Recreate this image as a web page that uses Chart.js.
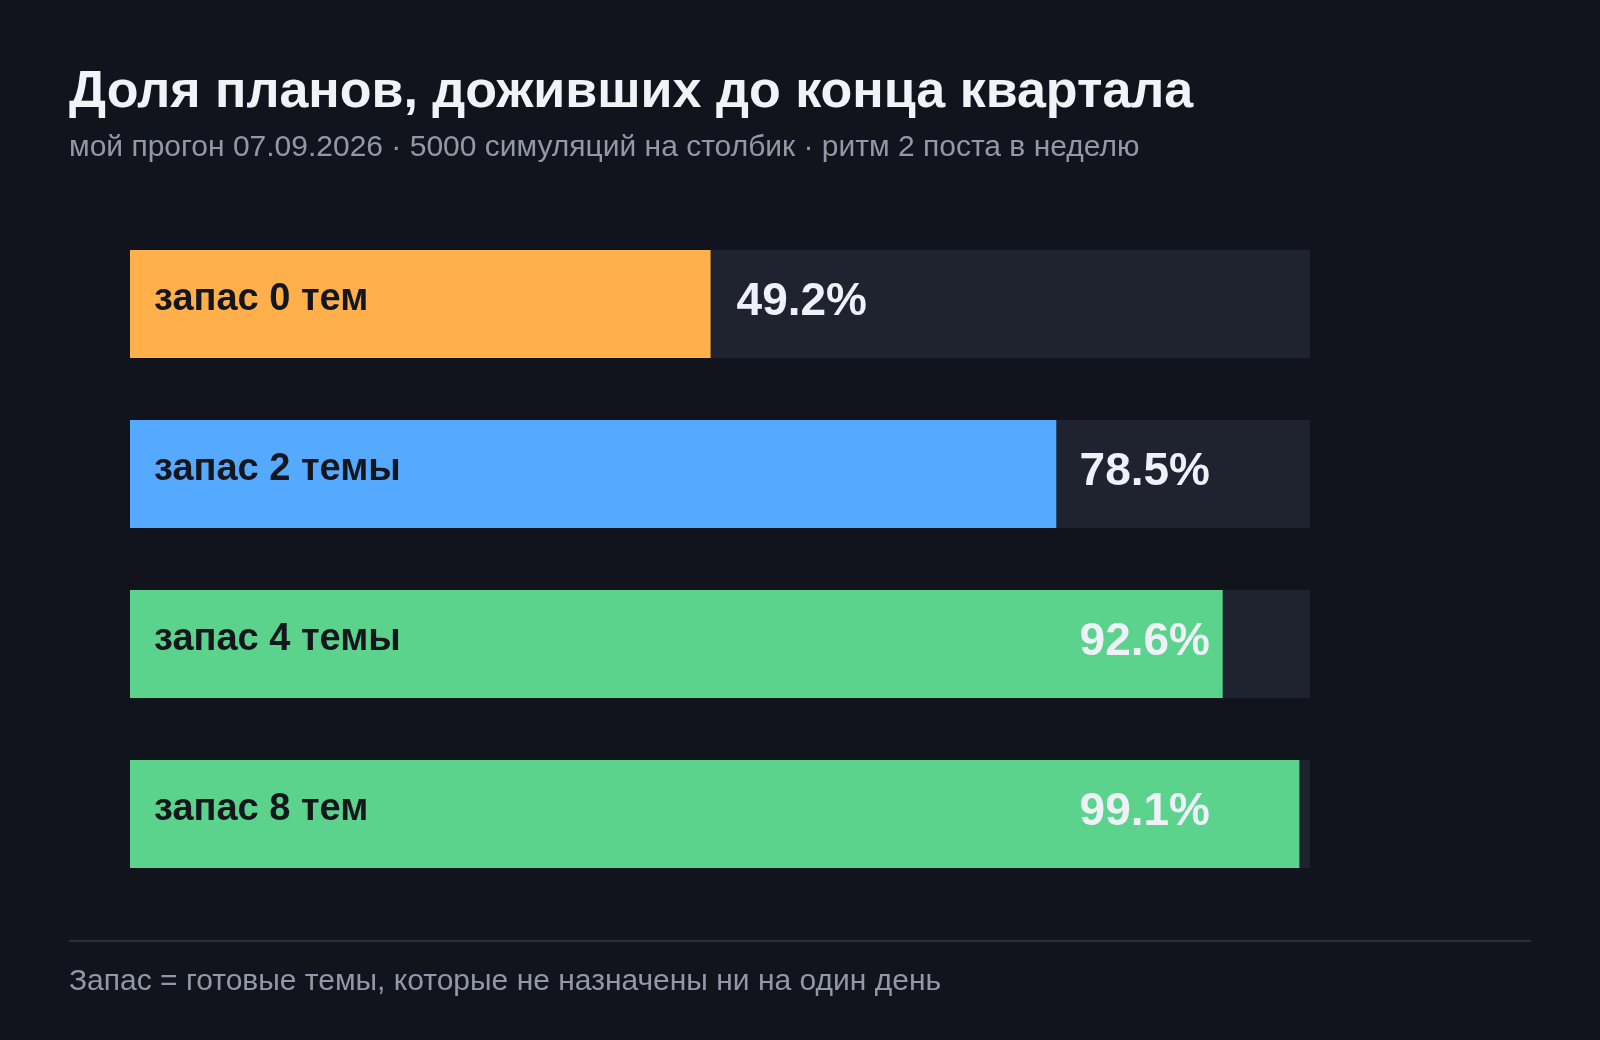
<!DOCTYPE html>
<html lang="ru">
<head>
<meta charset="utf-8">
<script src="https://cdn.jsdelivr.net/npm/chart.js@4.4.1/dist/chart.umd.min.js"></script>
<style>
  html, body { margin: 0; padding: 0; background: #11141c; }
  body { width: 1600px; height: 1040px; position: relative; overflow: hidden;
         font-family: "Liberation Sans", Arial, sans-serif; }
  #title { position: absolute; left: 69px; top: 59px; margin: 0; font-size: 52px; font-weight: 700;
           color: #f1f3f8; white-space: nowrap; line-height: 60px; }
  #subtitle { position: absolute; left: 69px; top: 129px; margin: 0; font-size: 30px; font-weight: 400;
              color: #9298a6; white-space: nowrap; line-height: 34px; }
  #rule { position: absolute; left: 69px; top: 940px; width: 1462px; height: 2px; background: #2a2e3a; }
  #note { position: absolute; left: 69px; top: 963px; margin: 0; font-size: 30px; color: #9298a6;
          white-space: nowrap; line-height: 34px; }
  #wrap { position: absolute; left: 0; top: 0; width: 1600px; height: 1040px; }
</style>
</head>
<body>
<div id="wrap"><canvas id="c" width="1600" height="1040"></canvas></div>
<h1 id="title">Доля планов, доживших до конца квартала</h1>
<p id="subtitle">мой прогон 07.09.2026 · 5000 симуляций на столбик · ритм 2 поста в неделю</p>
<div id="rule"></div>
<p id="note">Запас = готовые темы, которые не назначены ни на один день</p>
<script>
const categories = ["запас 0 тем", "запас 2 темы", "запас 4 темы", "запас 8 тем"];
const survivalPct = [49.2, 78.5, 92.6, 99.1];
const trackMax = [100, 100, 100, 100];
const barColors = ["#ffb04b", "#55aaff", "#5bd38c", "#5bd38c"];

const labelPlugin = {
  id: "barLabels",
  afterDatasetsDraw(chart) {
    const ctx = chart.ctx;
    const meta = chart.getDatasetMeta(0);
    const area = chart.chartArea;
    ctx.save();
    meta.data.forEach((bar, i) => {
      const cy = bar.y;
      ctx.textBaseline = "alphabetic";
      ctx.textAlign = "left";
      ctx.fillStyle = "#14161d";
      ctx.font = "700 38px 'Liberation Sans', Arial, sans-serif";
      ctx.fillText(categories[i], area.left + 24, cy + 6);
      const txt = survivalPct[i].toFixed(1) + "%";
      ctx.font = "700 46px 'Liberation Sans', Arial, sans-serif";
      const w = ctx.measureText(txt).width;
      const x = Math.min(bar.x + 26, area.right - 100 - w);
      ctx.fillStyle = "#eef1f7";
      ctx.fillText(txt, x, cy + 11);
    });
    ctx.restore();
  }
};

new Chart(document.getElementById("c"), {
  type: "bar",
  data: {
    labels: categories,
    datasets: [
      { data: survivalPct, backgroundColor: barColors, order: 0, grouped: false,
        categoryPercentage: 1, barPercentage: 0.635, borderWidth: 0 },
      { data: trackMax, backgroundColor: "#1f2330", order: 1, grouped: false,
        categoryPercentage: 1, barPercentage: 0.635, borderWidth: 0 }
    ]
  },
  options: {
    indexAxis: "y",
    responsive: false,
    animation: false,
    layout: { padding: { left: 130, right: 290, top: 219, bottom: 141 } },
    scales: {
      x: { display: false, min: 0, max: 100 },
      y: { display: false }
    },
    plugins: { legend: { display: false }, tooltip: { enabled: false } }
  },
  plugins: [labelPlugin]
});
</script>
</body>
</html>
